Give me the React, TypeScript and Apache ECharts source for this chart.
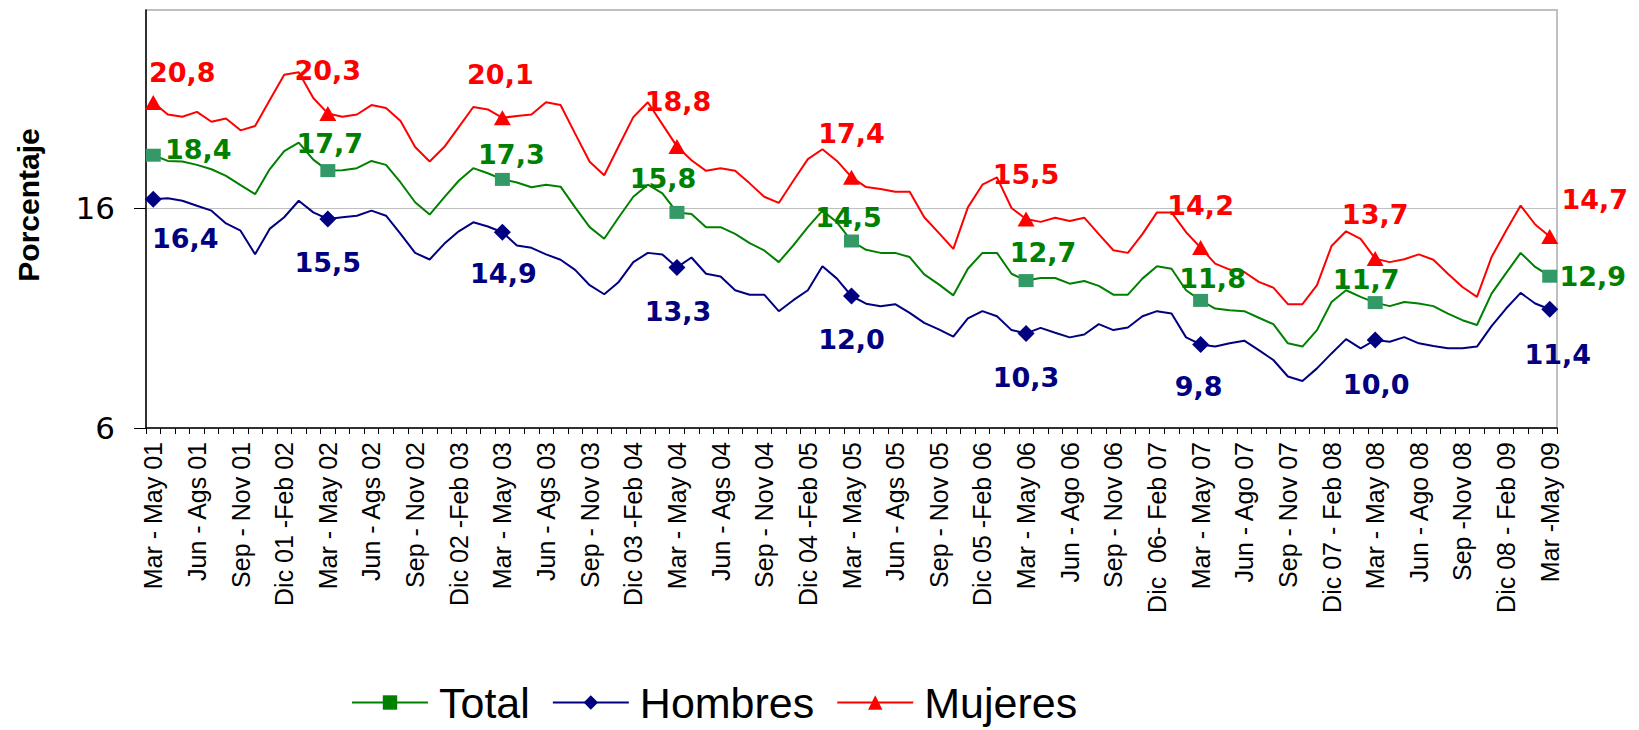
import React, { useEffect, useRef } from "react";
import * as echarts from "echarts";

// Tick labels shown on the category axis (every third rolling quarter)
const tickLabels = [
  "Mar - May 01", "Jun - Ags 01", "Sep - Nov 01", "Dic 01 -Feb 02",
  "Mar - May 02", "Jun - Ags 02", "Sep - Nov 02", "Dic 02 -Feb 03",
  "Mar - May 03", "Jun - Ags 03", "Sep - Nov 03", "Dic 03 -Feb 04",
  "Mar - May 04", "Jun - Ags 04", "Sep - Nov 04", "Dic 04 -Feb 05",
  "Mar - May 05", "Jun - Ags 05", "Sep - Nov 05", "Dic 05 -Feb 06",
  "Mar - May 06", "Jun - Ago 06", "Sep - Nov 06", "Dic  06- Feb 07",
  "Mar - May 07", "Jun - Ago 07", "Sep - Nov 07", "Dic 07 - Feb 08",
  "Mar - May 08", "Jun - Ago 08", "Sep -Nov 08", "Dic 08 - Feb 09",
  "Mar -May 09",
];

// Unlabelled rolling quarters between the tick labels
const betweenWindows = [
  ["Abr - Jun", "May - Jul"],
  ["Jul - Sep", "Ago - Oct"],
  ["Oct - Dic", "Nov - Ene"],
  ["Ene - Mar", "Feb - Abr"],
];

const totalValues = [
  18.4, 18.14, 18.11, 17.96, 17.76, 17.46, 17.04, 16.63, 17.76, 18.59, 18.97, 18.2,
  17.7, 17.72, 17.81, 18.14, 17.96, 17.16, 16.26, 15.7, 16.48, 17.24, 17.81, 17.58,
  17.3, 17.16, 16.94, 17.06, 16.97, 16.03, 15.13, 14.6, 15.58, 16.51, 17.06, 16.66,
  15.8, 15.73, 15.13, 15.13, 14.82, 14.4, 14.07, 13.54, 14.3, 15.13, 15.88, 15.35,
  14.5, 14.1, 13.96, 13.96, 13.77, 12.98, 12.53, 12.03, 13.24, 13.96, 13.96, 13.01,
  12.7, 12.82, 12.82, 12.56, 12.68, 12.46, 12.06, 12.06, 12.79, 13.35, 13.24, 12.26,
  11.8, 11.43, 11.35, 11.31, 11.01, 10.72, 9.85, 9.7, 10.45, 11.73, 12.26, 11.96,
  11.7, 11.54, 11.73, 11.66, 11.54, 11.2, 10.9, 10.68, 12.11, 13.04, 13.96, 13.32,
  12.9,
];

const hombresValues = [
  16.4, 16.44, 16.33, 16.1, 15.88, 15.3, 14.97, 13.9, 15.05, 15.58, 16.33, 15.8,
  15.5, 15.58, 15.65, 15.88, 15.65, 14.82, 13.96, 13.66, 14.37, 14.94, 15.35, 15.16,
  14.9, 14.3, 14.19, 13.89, 13.65, 13.19, 12.49, 12.08, 12.64, 13.54, 13.96, 13.89,
  13.3, 13.75, 13.01, 12.89, 12.26, 12.06, 12.06, 11.31, 11.81, 12.26, 13.35, 12.79,
  12.0, 11.65, 11.53, 11.63, 11.23, 10.78, 10.48, 10.15, 10.98, 11.31, 11.08, 10.45,
  10.3, 10.55, 10.33, 10.12, 10.25, 10.72, 10.45, 10.57, 11.08, 11.31, 11.2, 10.12,
  9.8, 9.7, 9.85, 9.97, 9.54, 9.09, 8.34, 8.14, 8.71, 9.39, 10.04, 9.62,
  10.0, 9.92, 10.13, 9.85, 9.73, 9.62, 9.62, 9.7, 10.63, 11.43, 12.14, 11.66,
  11.4,
];

const mujeresValues = [
  20.8, 20.25, 20.15, 20.37, 19.92, 20.07, 19.53, 19.73, 20.9, 22.06, 22.17, 21.0,
  20.3, 20.15, 20.25, 20.68, 20.55, 19.95, 18.77, 18.11, 18.77, 19.68, 20.59, 20.48,
  20.1, 20.18, 20.25, 20.81, 20.68, 19.38, 18.1, 17.49, 18.82, 20.13, 20.81, 19.8,
  18.8, 18.17, 17.69, 17.81, 17.69, 17.12, 16.51, 16.23, 17.24, 18.22, 18.67, 18.14,
  17.4, 16.95, 16.86, 16.74, 16.74, 15.58, 14.87, 14.14, 16.03, 17.06, 17.39, 16.0,
  15.5, 15.37, 15.56, 15.41, 15.56, 14.81, 14.08, 13.96, 14.81, 15.8, 15.8, 14.9,
  14.2, 13.47, 13.2, 13.09, 12.64, 12.38, 11.63, 11.63, 12.49, 14.27, 14.94, 14.6,
  13.7, 13.54, 13.67, 13.89, 13.65, 13.01, 12.41, 11.96, 13.77, 14.97, 16.11, 15.25,
  14.7,
];

// label offsets (px) for the yearly marked points, relative to each marker
const totalLabelOffsets = [[45, -6], [2, -27], [9, -25], [-14, -34], [-3, -24], [17, -28], [12, -22], [-9, -23], [43, 0]];
const hombresLabelOffsets = [[32, 39], [0, 43], [1, 41], [1, 44], [0, 43], [0, 44], [-2, 42], [1, 44], [8, 45]];
const mujeresLabelOffsets = [[29, -30], [0, -43], [-2, -43], [1, -45], [0, -44], [0, -45], [0, -42], [0, -44], [45, -37]];

function buildCategories(): string[] {
  const cats: string[] = [];
  tickLabels.forEach((lab, q) => {
    cats.push(lab);
    if (q < tickLabels.length - 1) {
      const yr = 1 + Math.floor(q / 4);
      const yy = String(yr).padStart(2, "0");
      const yy1 = String(yr + 1).padStart(2, "0");
      const w = betweenWindows[q % 4];
      if (q % 4 === 0 || q % 4 === 1) {
        cats.push(`${w[0]} ${yy}`, `${w[1]} ${yy}`);
      } else if (q % 4 === 2) {
        cats.push(`${w[0]} ${yy}`, `Nov ${yy} - Ene ${yy1}`);
      } else {
        cats.push(`${w[0]} ${yy1}`, `${w[1]} ${yy1}`);
      }
    }
  });
  return cats;
}

const fmt = (v: number) => v.toFixed(1).replace(".", ",");

function buildData(values: number[], offsets: number[][]) {
  return values.map((v, i) =>
    i % 12 === 0
      ? { value: v, label: { show: true, offset: offsets[i / 12] } }
      : { value: v, symbol: "none" }
  );
}

export default function App() {
  const ref = useRef<HTMLDivElement>(null);

  useEffect(() => {
    if (!ref.current) return;
    const chart = echarts.init(ref.current, undefined, { renderer: "svg" });
    const categories = buildCategories();

    const labelBase = (color: string) => ({
      show: false,
      position: "inside",
      color,
      fontFamily: "DejaVu Sans",
      fontWeight: "bold",
      fontSize: 27,
      formatter: (p: any) => fmt(p.value),
    });

    chart.setOption({
      animation: false,
      backgroundColor: "#ffffff",
      grid: {
        left: 146,
        top: 10,
        right: 82,
        bottom: 302,
        show: true,
        borderColor: "#c0c0c0",
        borderWidth: 2,
      },
      legend: {
        left: 346,
        top: 676,
        itemWidth: 76,
        itemHeight: 18,
        itemGap: 22,
        textStyle: {
          fontFamily: "Liberation Sans",
          fontSize: 43,
          lineHeight: 43,
          color: "#000000",
          padding: [0, 0, 0, 6],
        },
        data: [
          { name: "Total", itemStyle: { color: "#008000" } },
          { name: "Hombres" },
          { name: "Mujeres" },
        ],
      },
      xAxis: {
        type: "category",
        data: categories,
        boundaryGap: true,
        axisLine: { show: true, lineStyle: { color: "#000000", width: 1.5 } },
        axisTick: { show: true, interval: 0, length: 6, lineStyle: { color: "#000000" } },
        axisLabel: {
          interval: 2,
          rotate: 90,
          margin: 14,
          fontFamily: "Liberation Sans",
          fontSize: 25,
          color: "#000000",
        },
        splitLine: { show: false },
      },
      yAxis: {
        type: "value",
        min: 6,
        max: 25,
        interval: 10,
        name: "Porcentaje",
        nameLocation: "middle",
        nameGap: 103,
        nameTextStyle: {
          fontFamily: "Liberation Sans",
          fontWeight: "bold",
          fontSize: 30,
          color: "#000000",
          padding: [0, 0, 0, 28],
        },
        axisLine: { show: true, lineStyle: { color: "#000000", width: 1.5 } },
        axisTick: { show: true, customValues: [6, 16], length: 12, lineStyle: { color: "#000000" } },
        axisLabel: {
          customValues: [6, 16],
          margin: 31,
          fontFamily: "DejaVu Sans",
          fontSize: 31,
          color: "#000000",
          formatter: (v: number) => (v <= 16 ? String(v) : ""),
        },
        splitLine: { show: true, lineStyle: { color: "#c0c0c0", width: 1 } },
      },
      series: [
        {
          name: "Total",
          type: "line",
          symbol: "rect",
          symbolSize: [15, 13],
          lineStyle: { color: "#008000", width: 2 },
          itemStyle: { color: "#339966" },
          label: labelBase("#008000"),
          data: buildData(totalValues, totalLabelOffsets),
        },
        {
          name: "Hombres",
          type: "line",
          symbol: "diamond",
          symbolSize: 17,
          lineStyle: { color: "#000080", width: 2 },
          itemStyle: { color: "#000080" },
          label: labelBase("#000080"),
          data: buildData(hombresValues, hombresLabelOffsets),
        },
        {
          name: "Mujeres",
          type: "line",
          symbol: "triangle",
          symbolSize: [17, 15],
          lineStyle: { color: "#ff0000", width: 2 },
          itemStyle: { color: "#ff0000" },
          label: labelBase("#ff0000"),
          data: buildData(mujeresValues, mujeresLabelOffsets),
        },
      ],
    });

    return () => chart.dispose();
  }, []);

  return (
    <div
      ref={ref}
      style={{ position: "fixed", left: 0, top: 0, width: 1639, height: 730, background: "#fff" }}
    />
  );
}
